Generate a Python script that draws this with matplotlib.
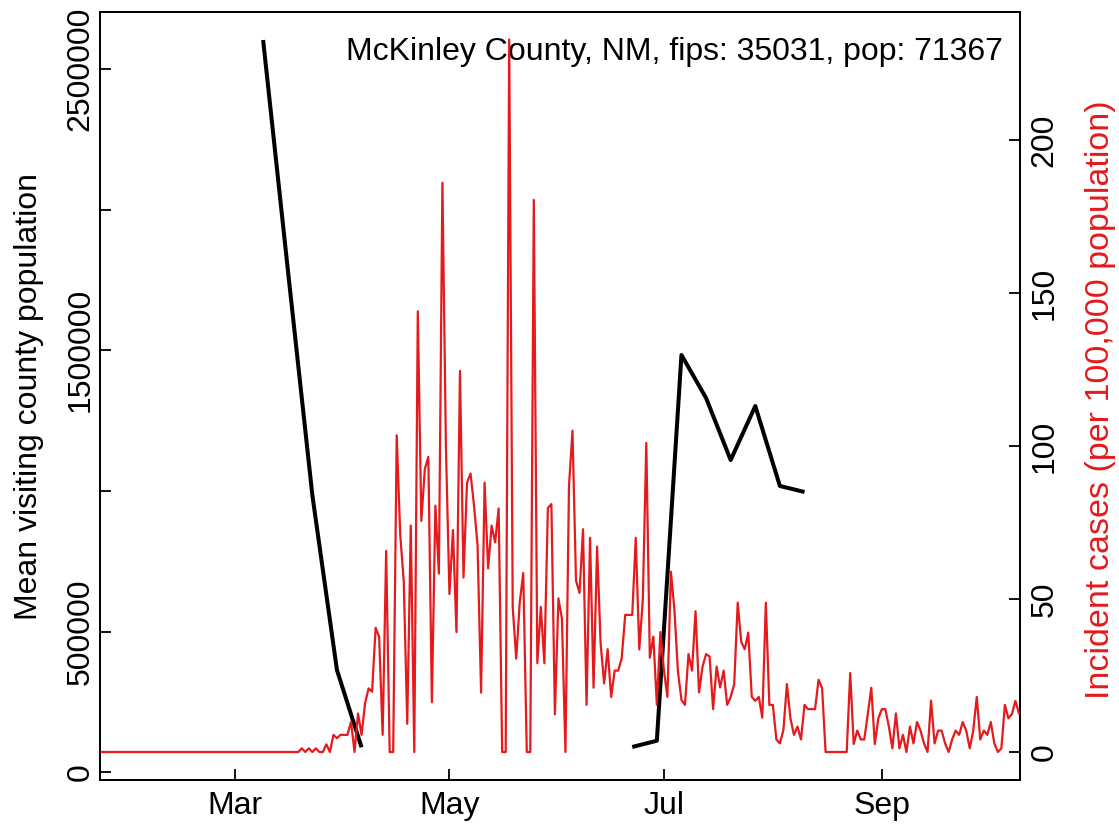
import numpy as np
import pandas as pd
import matplotlib
matplotlib.use("Agg")
import matplotlib.pyplot as plt

plt.rcParams['font.family'] = ['Liberation Sans', 'DejaVu Sans']

# ---------------- data ----------------
case_start = "2020-01-23"
# daily incident cases per 100,000 (Jan 23 .. Oct 10, 2020)
cases_early_zeros = [0.0] * 57          # Jan 23 .. Mar 19
cases_rest = [
    1.2, 0, 1.2, 0, 1.2, 0, 0, 2.5, 0, 5.6,          # Mar 20 - Mar 29
    4.5, 5.6, 5.6, 5.6, 9.9, 0, 12.6, 5.6, 15.9, 20.8,  # Mar 30 - Apr 8
    19.7, 40.6, 37.7, 5.6, 65.7, 0, 0, 103.5, 71, 55.9,  # Apr 9 - Apr 18
    9.2, 74, 0, 144, 75.5, 92.5, 96.4, 16.3, 80.5, 58.3,  # Apr 19 - Apr 28
    186, 99.5, 51.6, 72.5, 39.2, 124.5, 57, 88, 91, 80.5,  # Apr 29 - May 8
    67.5, 19.4, 88, 60, 74, 68.5, 79.6, 0, 0, 232.8,  # May 9 - May 18
    47.3, 30.5, 48.9, 58.5, 0, 0, 180.4, 29, 47.4, 29,  # May 19 - May 28
    79.7, 81, 12.3, 50.2, 43.5, 0, 86.8, 105, 56, 52,  # May 29 - Jun 7
    72.8, 15.4, 70, 21, 67.1, 35.5, 22.4, 33.6, 18, 26.6,  # Jun 8 - Jun 17
    26.6, 30.6, 44.8, 44.8, 44.8, 70, 33.5, 49.7, 101, 30.8,  # Jun 18 - Jun 27
    37.7, 15.4, 39.2, 26.8, 18, 58.9, 46.4, 26.2, 17, 15.4,  # Jun 28 - Jul 7
    32, 26.6, 46, 19.5, 27.9, 32, 31.2, 14, 27.9, 21.1,  # Jul 8 - Jul 17
    26.6, 15.4, 18, 22.1, 48.8, 36, 33.6, 39, 18, 16.7,  # Jul 18 - Jul 27
    18, 11.2, 48.8, 15.4, 15.4, 4.1, 2.8, 7.2, 22.2, 11,  # Jul 28 - Aug 6
    5.6, 8.3, 4.1, 15.4, 14, 14, 14, 23.6, 20.9, 0,  # Aug 7 - Aug 16
    0, 0, 0, 0, 0, 0, 25.8, 2.6, 7, 4.1,  # Aug 17 - Aug 26
    4.1, 12.4, 21, 2.6, 11, 14, 14, 8.3, 1.2, 12.6,  # Aug 27 - Sep 5
    1.2, 5.6, 0, 8.3, 2.8, 9.8, 7, 2.8, 0, 16.8,  # Sep 6 - Sep 15
    2.8, 7, 7, 2.8, 0, 4.1, 7, 5.6, 9.8, 7,  # Sep 16 - Sep 25
    1.2, 7, 18, 4.1, 7, 5.6, 9.8, 2.8, 0, 1.2,  # Sep 26 - Oct 5
    15.4, 11, 12.4, 16.7, 12.6,  # Oct 6 - Oct 10
]
cases = cases_early_zeros + cases_rest

# weekly mean visiting county population
visit_dates = ["2020-03-09", "2020-03-16", "2020-03-23", "2020-03-30", "2020-04-06",
               "2020-04-13", "2020-06-15",
               "2020-06-22", "2020-06-29", "2020-07-06", "2020-07-13", "2020-07-20",
               "2020-07-27", "2020-08-03", "2020-08-10"]
visit_values = [2603000, 1790000, 985700, 363600, 88900,
                np.nan, np.nan,
                90000, 112300, 1483400, 1330500, 1110000,
                1302000, 1017700, 996400]

left_ticks = [0, 500000, 1000000, 1500000, 2000000, 2500000]
left_ticklabels = ["0", "500000", "", "1500000", "", "2500000"]
right_ticks = [0, 50, 100, 150, 200]
x_ticks = ["2020-03-01", "2020-05-01", "2020-07-01", "2020-09-01"]
x_ticklabels = ["Mar", "May", "Jul", "Sep"]

title = "McKinley County, NM, fips: 35031, pop: 71367"
left_label = "Mean visiting county population"
right_label = "Incident cases (per 100,000 population)"

# ---------------- plot ----------------
case_dates = pd.date_range(case_start, periods=len(cases), freq="D")
vdates = pd.to_datetime(visit_dates)

RED = "#E41A1C"
FS = 23

W, H = 1119, 824
fig = plt.figure(figsize=(W / 100, H / 100), dpi=100)
ax = fig.add_axes([100 / W, 1 - 780 / H, 920 / W, 768 / H])
ax2 = ax.twinx()

ax.plot(vdates, visit_values, color="black", lw=2.9, solid_capstyle="butt", zorder=2)
ax2.plot(case_dates, cases, color=RED, lw=1.6, zorder=3)

x0 = pd.Timestamp("2020-03-01")
ax.set_xlim(x0 + pd.Timedelta(days=-38.4), x0 + pd.Timedelta(days=223.3))
ax.set_ylim(-27370, 2702600)
ax2.set_ylim(-9.15, 241.8)

ax.set_xticks(pd.to_datetime(x_ticks))
ax.set_xticklabels(x_ticklabels, fontsize=FS)
ax.set_yticks(left_ticks)
ax.set_yticklabels(left_ticklabels, fontsize=FS, rotation=90, va="center")
ax2.set_yticks(right_ticks)
ax2.set_yticklabels([str(t) for t in right_ticks], fontsize=FS, rotation=90, va="center")

for a in (ax, ax2):
    a.tick_params(direction="in", length=8, width=1.3, colors="black")
    for s in a.spines.values():
        s.set_linewidth(1.3)
        s.set_color("black")
ax.tick_params(axis="y", pad=3)
ax.tick_params(axis="x", pad=8)
ax2.tick_params(axis="y", pad=7)

fig.text(29 / W, 1 - 397 / H, left_label, rotation=90, ha="center", va="center",
         fontsize=FS)
fig.text(1100 / W, 1 - 400 / H, right_label, rotation=90, ha="center", va="center",
         fontsize=24.5, color=RED)

ax.text((1003 - 100) / 920, (780 - 52) / 768, title, transform=ax.transAxes,
        ha="right", va="center", fontsize=FS, zorder=5)

fig.savefig("out.png", dpi=100)
